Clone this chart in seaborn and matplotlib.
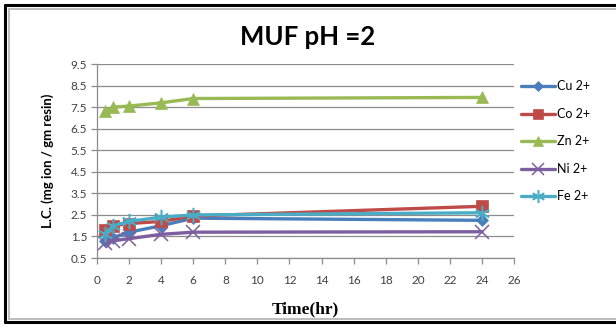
import matplotlib
matplotlib.use("Agg")
import matplotlib.pyplot as plt
from matplotlib.lines import Line2D
import seaborn as sns
import pandas as pd

# Sorption time (hr) and loading capacity for each metal ion
time_hr = [0.5, 1, 2, 4, 6, 24]
cu = [1.3, 1.45, 1.7, 2.0, 2.35, 2.25]
co = [1.8, 2.0, 2.1, 2.2, 2.45, 2.9]
zn = [7.3, 7.5, 7.55, 7.7, 7.9, 7.95]
ni = [1.2, 1.3, 1.4, 1.6, 1.7, 1.72]
fe = [1.6, 2.0, 2.2, 2.4, 2.5, 2.6]

series_names = ["Cu 2+", "Co 2+", "Zn 2+", "Ni 2+", "Fe 2+"]
series_values = [cu, co, zn, ni, fe]

x_ticks = list(range(0, 27, 2))
y_ticks = [0.5, 1.5, 2.5, 3.5, 4.5, 5.5, 6.5, 7.5, 8.5, 9.5]

rows = []
for name, vals in zip(series_names, series_values):
    for t, v in zip(time_hr, vals):
        rows.append({"Time": t, "LC": v, "Ion": name})
df = pd.DataFrame(rows)

palette = {"Cu 2+": "#4a7ebb", "Co 2+": "#be4b48", "Zn 2+": "#98b954",
           "Ni 2+": "#7d5fa0", "Fe 2+": "#4bacc6"}
# Fe uses a six-armed asterisk
markers = {"Cu 2+": "D", "Co 2+": "s", "Zn 2+": "^", "Ni 2+": "x", "Fe 2+": (6, 2, 0)}
msizes = {"Cu 2+": 6.5, "Co 2+": 8, "Zn 2+": 9, "Ni 2+": 9.5, "Fe 2+": 11}
thin = ("Ni 2+", "Fe 2+")

sns.set_theme(style="white")
plt.rcParams["font.family"] = ["Lato", "DejaVu Sans"]

fig = plt.figure(figsize=(6.16, 3.25), dpi=100)
ax = fig.add_axes([0.1575, 0.206, 0.677, 0.597])

for name in series_names:
    sub = df[df["Ion"] == name]
    sns.lineplot(data=sub, x="Time", y="LC", ax=ax, color=palette[name],
                 marker=markers[name], markersize=msizes[name],
                 markeredgecolor=palette[name],
                 markeredgewidth=1.1 if name in thin else 0.5,
                 linewidth=2.4, label=name, legend=False)

ax.set_xlim(0, 26)
ax.set_ylim(0.5, 9.5)
ax.set_xticks(x_ticks)
ax.set_yticks(y_ticks)
ax.set_yticklabels([f"{v:.1f}" for v in y_ticks])
ax.yaxis.grid(True, color="#8c8c8c", linewidth=0.9)
ax.xaxis.grid(False)
for side in ("top", "right"):
    ax.spines[side].set_visible(False)
for side in ("left", "bottom"):
    ax.spines[side].set_color("#8c8c8c")
    ax.spines[side].set_linewidth(0.9)
ax.tick_params(axis="both", which="both", direction="out", length=4,
               width=0.9, color="#8c8c8c", labelsize=8.5, labelcolor="#404040",
               left=True, bottom=True, pad=3)
ax.tick_params(axis="x", pad=8)

ax.set_xlabel("Time(hr)", family=["Liberation Serif"], fontweight="bold",
              fontsize=12.5, color="#000000", labelpad=11)
ax.set_ylabel("L.C. (mg ion / gm resin)", fontweight="bold", fontsize=9.5,
              color="#000000", labelpad=12)
fig.text(0.5, 0.885, "MUF pH =2", ha="center", va="center",
         fontsize=18.5, fontweight="bold", color="#000000")

handles = [Line2D([0], [0], color=palette[n], linewidth=2.4, marker=markers[n],
                  markersize=msizes[n] * 0.85, markeredgecolor=palette[n],
                  markeredgewidth=1.1 if n in thin else 0.5)
           for n in series_names]
leg = fig.legend(handles, series_names, loc="upper left",
                 bbox_to_anchor=(0.838, 0.768), frameon=False,
                 fontsize=9, handlelength=2.7, handletextpad=0.2,
                 labelspacing=1.24, borderaxespad=0)
for t in leg.get_texts():
    t.set_color("#000000")

# outer chart frame
W, H = 616, 325
def fx(px):
    return px / W
def fy(py):
    return 1 - py / H
fig.add_artist(Line2D([fx(4.5), fx(4.5)], [fy(4.5), fy(321.5)], color="black", lw=2.2))
fig.add_artist(Line2D([fx(4.5), 1], [fy(4.5), fy(4.5)], color="black", lw=2.2))
fig.add_artist(Line2D([fx(4.5), 1], [fy(321.5), fy(321.5)], color="black", lw=2.2))
fig.add_artist(Line2D([fx(8.5), fx(8.5)], [fy(9), fy(318.5)], color="#b0b0b0", lw=1.2))
fig.add_artist(Line2D([fx(8.5), 1], [fy(9), fy(9)], color="#b0b0b0", lw=1.2))
fig.add_artist(Line2D([fx(8.5), 1], [fy(318.5), fy(318.5)], color="#b0b0b0", lw=1.2))

fig.savefig("out.png", dpi=100)
